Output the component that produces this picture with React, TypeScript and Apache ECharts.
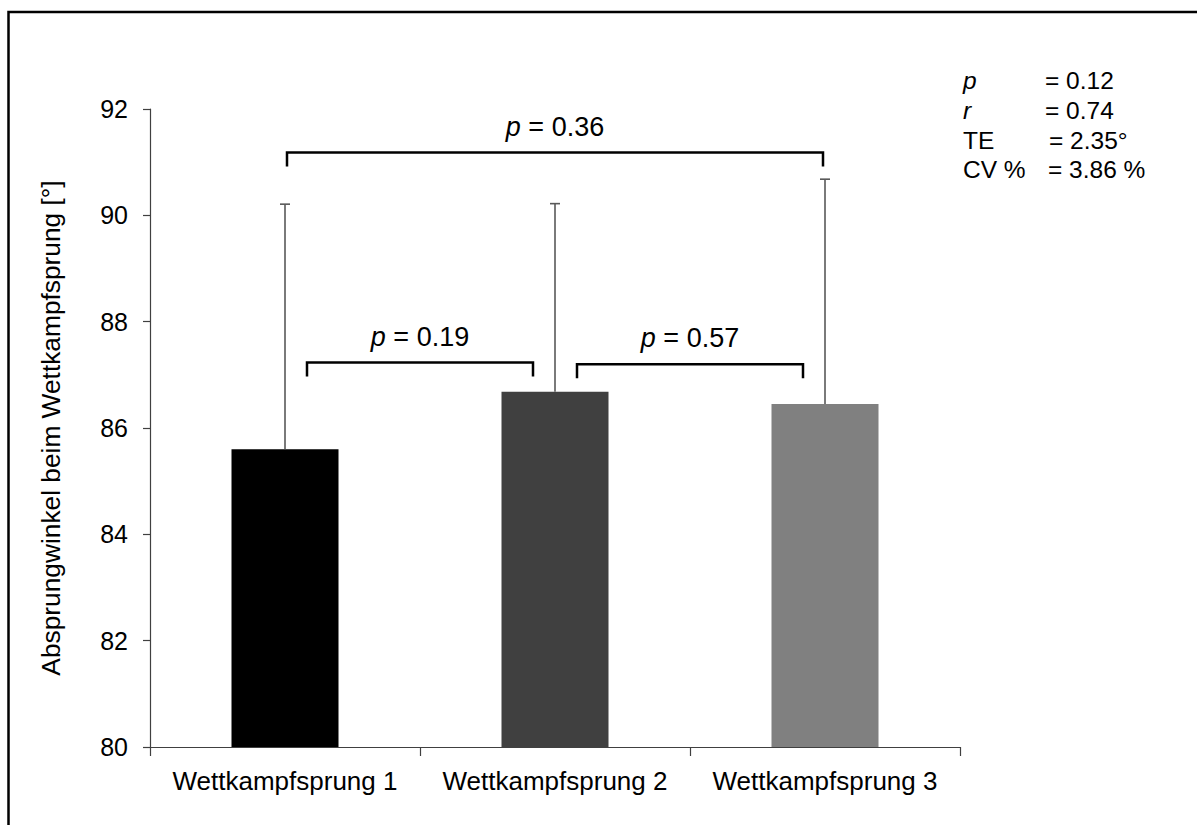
import React, { useEffect, useRef } from "react";
import * as echarts from "echarts";

const categories = ["Wettkampfsprung 1", "Wettkampfsprung 2", "Wettkampfsprung 3"];
const means = [85.6, 86.68, 86.45];
const sds = [4.61, 3.54, 4.23];
const barColors = ["#000000", "#404040", "#808080"];
const yTicks = { min: 80, max: 92, interval: 2 };
const yTitle = "Absprungwinkel beim Wettkampfsprung [°]";

// comparisons: [fromIndex, toIndex, bracket level (axis value)]
const compFrom = [0, 1, 0];
const compTo = [1, 2, 2];
const compLevel = [87.23, 87.2, 91.18];
const compP = ["0.19", "0.57", "0.36"];

const statNames = ["p", "r", "TE", "CV %"];
const statItalic = [true, true, false, false];
const statValues = ["= 0.12", "= 0.74", "= 2.35°", "= 3.86 %"];

const FONT = "'Liberation Sans', Arial, sans-serif";

export default function App() {
  const ref = useRef<HTMLDivElement>(null);
  useEffect(() => {
    if (!ref.current) return;
    const chart = echarts.init(ref.current, null, { renderer: "svg" });

    const errData = means.map((m, i) => [i, m, m + sds[i]]);
    const compData = compFrom.map((f, i) => [f, compTo[i], compLevel[i], i]);

    const statX0 = 963;
    const statX1 = [1045, 1045, 1049, 1048];
    const statY = [80, 110, 140, 169];
    const graphics: any[] = [
      {
        type: "rect",
        shape: { x: 8.5, y: 12, width: 1400, height: 1000 },
        style: { fill: "none", stroke: "#000", lineWidth: 2.5 },
        silent: true,
        z: 10,
      },
    ];
    statNames.forEach((n, i) => {
      graphics.push({
        type: "text",
        x: statX0,
        y: statY[i],
        style: {
          text: n,
          fontSize: 24.5,
          fontFamily: FONT,
          fontStyle: statItalic[i] ? "italic" : "normal",
          fill: "#000",
          verticalAlign: "middle",
        },
      });
      graphics.push({
        type: "text",
        x: statX1[i],
        y: statY[i],
        style: {
          text: statValues[i],
          fontSize: 24.5,
          fontFamily: FONT,
          fill: "#000",
          verticalAlign: "middle",
        },
      });
    });

    chart.setOption({
      animation: false,
      backgroundColor: "#fff",
      grid: { left: 150, top: 109, width: 810, height: 638 },
      graphic: graphics,
      xAxis: {
        type: "category",
        data: categories,
        axisLine: { lineStyle: { color: "#404040", width: 1.2 } },
        axisTick: { show: true, length: 9, lineStyle: { color: "#404040", width: 1.2 } },
        axisLabel: {
          color: "#000",
          fontSize: 26,
          fontFamily: FONT,
          margin: 21,
          interval: 0,
          hideOverlap: false,
        },
      },
      yAxis: {
        type: "value",
        min: yTicks.min,
        max: yTicks.max,
        interval: yTicks.interval,
        name: yTitle,
        nameLocation: "middle",
        nameGap: 86,
        nameTextStyle: { color: "#000", fontSize: 26.3, fontFamily: FONT },
        splitLine: { show: false },
        axisLine: { show: true, lineStyle: { color: "#404040", width: 1.2 } },
        axisTick: { show: true, length: 7, lineStyle: { color: "#404040", width: 1.2 } },
        axisLabel: { color: "#000", fontSize: 25, fontFamily: FONT, margin: 22 },
      },
      series: [
        {
          type: "bar",
          barWidth: 107,
          data: means.map((m, i) => ({ value: m, itemStyle: { color: barColors[i] } })),
          z: 2,
        },
        {
          type: "custom",
          z: 3,
          data: errData,
          encode: { x: 0, y: [1, 2] },
          renderItem: (params: any, api: any) => {
            const i = api.value(0);
            const lo = api.coord([i, api.value(1)]);
            const hi = api.coord([i, api.value(2)]);
            const cap = 5;
            return {
              type: "group",
              children: [
                {
                  type: "line",
                  shape: { x1: lo[0], y1: lo[1], x2: hi[0], y2: hi[1] },
                  style: { stroke: "#595959", lineWidth: 1.6 },
                },
                {
                  type: "line",
                  shape: { x1: hi[0] - cap, y1: hi[1], x2: hi[0] + cap, y2: hi[1] },
                  style: { stroke: "#595959", lineWidth: 1.6 },
                },
              ],
            };
          },
        },
        {
          type: "custom",
          z: 4,
          clip: false,
          data: compData,
          encode: { x: 0, y: 2 },
          renderItem: (params: any, api: any) => {
            const f = api.value(0);
            const t = api.value(1);
            const lvl = api.value(2);
            const idx = api.value(3);
            const a = api.coord([f, lvl]);
            const b = api.coord([t, lvl]);
            const inset = t - f === 1 ? 22 : 2;
            const x0 = a[0] + inset;
            const x1 = b[0] - inset;
            const y = a[1];
            const drop = 14;
            return {
              type: "group",
              children: [
                {
                  type: "polyline",
                  shape: { points: [[x0, y + drop], [x0, y], [x1, y], [x1, y + drop]] },
                  style: { stroke: "#000", lineWidth: 2.5, fill: "none" },
                },
                {
                  type: "text",
                  x: (x0 + x1) / 2,
                  y: y - 26,
                  style: {
                    text: "{i|p} = " + compP[idx],
                    fontSize: 27,
                    fontFamily: FONT,
                    fill: "#000",
                    align: "center",
                    verticalAlign: "middle",
                    rich: {
                      i: { fontStyle: "italic", fontSize: 27, fontFamily: FONT, fill: "#000" },
                    },
                  },
                },
              ],
            };
          },
        },
      ],
    });
    return () => chart.dispose();
  }, []);
  return (
    <div
      ref={ref}
      style={{ position: "absolute", left: 0, top: 0, width: 1197, height: 825 }}
    />
  );
}
